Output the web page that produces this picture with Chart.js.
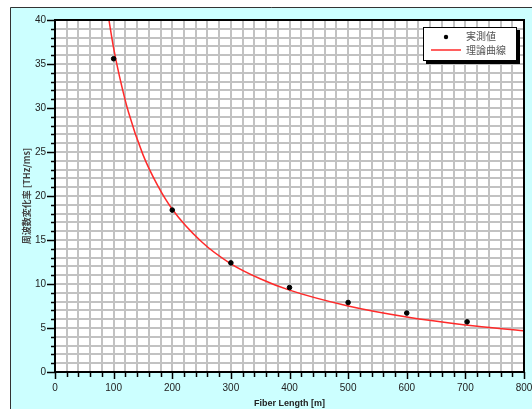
<!DOCTYPE html>
<html>
<head>
<meta charset="utf-8">
<script src="https://cdn.jsdelivr.net/npm/chart.js@4.4.1/dist/chart.umd.min.js"></script>
<style>
  html, body { margin: 0; padding: 0; background: #fff; }
  canvas { display: block; }
</style>
</head>
<body>
<canvas id="chart" width="532" height="409"></canvas>
<script>
// measured points
const measuredX = [100, 200, 300, 400, 500, 600, 703];
const measuredY = [35.6, 18.4, 12.4, 9.6, 7.9, 6.7, 5.7];

// theoretical curve
const curveX = [92, 100, 110, 125, 150, 175, 200, 250, 300, 350, 400, 500, 600, 700, 800];
const curveY = [40.0, 36.8, 33.6, 29.6, 24.7, 21.2, 18.5, 14.8, 12.3, 10.6, 9.3, 7.5, 6.25, 5.35, 4.68];

const legendLabels = ['実測値', '理論曲線'];
const xTitle = 'Fiber Length [m]';
const yTitle = '周波数変化率 [THz/ms]';

const tickFont = { family: 'Liberation Sans', size: 10 };

const framePlugin = {
  id: 'frame',
  beforeDraw(chart) {
    const { ctx, chartArea: a } = chart;
    ctx.save();
    ctx.fillStyle = '#ffffff';
    ctx.fillRect(0, 0, chart.width, chart.height);
    ctx.fillStyle = '#ccffff';
    ctx.fillRect(10, 7, chart.width - 10, chart.height - 7);
    ctx.strokeStyle = '#333';
    ctx.lineWidth = 1;
    ctx.beginPath();
    ctx.moveTo(10.5, chart.height);
    ctx.lineTo(10.5, 7.5);
    ctx.lineTo(chart.width, 7.5);
    ctx.stroke();
    ctx.fillStyle = '#ffffff';
    ctx.fillRect(a.left, a.top, a.right - a.left, a.bottom - a.top);
    ctx.restore();
  },
  afterDraw(chart) {
    const { ctx, chartArea: a, scales } = chart;
    ctx.save();
    ctx.strokeStyle = '#000';
    ctx.lineWidth = 2;
    ctx.strokeRect(a.left, a.top, a.right - a.left, a.bottom - a.top);

    // tick marks
    ctx.lineWidth = 1.5;
    ctx.beginPath();
    for (let v = 0; v <= 40; v++) {
      const y = Math.round(scales.y.getPixelForValue(v)) + 0.5;
      const len = v % 5 === 0 ? 8 : 4;
      ctx.moveTo(a.left - len, y);
      ctx.lineTo(a.left, y);
    }
    for (let v = 0; v <= 800; v += 20) {
      const x = Math.round(scales.x.getPixelForValue(v)) + 0.5;
      const len = v % 100 === 0 ? 7 : 5;
      ctx.moveTo(x, a.bottom);
      ctx.lineTo(x, a.bottom + len);
    }
    ctx.stroke();

    // legend
    const bx = 423, by = 27, bw = 94, bh = 34;
    ctx.fillStyle = '#000';
    ctx.fillRect(bx + 3, by + 3, bw, bh);
    ctx.fillStyle = '#fff';
    ctx.fillRect(bx, by, bw, bh);
    ctx.lineWidth = 1;
    ctx.strokeStyle = '#000';
    ctx.strokeRect(bx + 0.5, by + 0.5, bw - 1, bh - 1);

    ctx.fillStyle = '#000';
    ctx.beginPath();
    ctx.arc(446, 37, 2.2, 0, Math.PI * 2);
    ctx.fill();
    ctx.strokeStyle = '#ff2a2a';
    ctx.lineWidth = 1.5;
    ctx.beginPath();
    ctx.moveTo(431, 50);
    ctx.lineTo(461, 50);
    ctx.stroke();

    ctx.fillStyle = '#555';
    ctx.font = '10px "Noto Sans CJK JP"';
    ctx.textBaseline = 'middle';
    ctx.fillText(legendLabels[0], 466, 36);
    ctx.fillText(legendLabels[1], 466, 50);
    ctx.restore();
  }
};

new Chart(document.getElementById('chart'), {
  type: 'scatter',
  data: {
    datasets: [
      {
        label: legendLabels[0],
        data: measuredX.map((x, i) => ({ x, y: measuredY[i] })),
        backgroundColor: '#000',
        borderColor: '#000',
        pointRadius: 2.3,
        order: 0
      },
      {
        label: legendLabels[1],
        data: curveX.map((x, i) => ({ x, y: curveY[i] })),
        showLine: true,
        borderColor: '#ff2a2a',
        borderWidth: 1.5,
        pointRadius: 0,
        cubicInterpolationMode: 'monotone',
        order: 1
      }
    ]
  },
  options: {
    responsive: false,
    animation: false,
    devicePixelRatio: 1,
    layout: { padding: { left: 21, top: 20, right: 8, bottom: 0 } },
    plugins: { legend: { display: false }, tooltip: { enabled: false } },
    scales: {
      x: {
        min: 0, max: 800,
        afterFit(scale) { scale.height = 37; scale.paddingRight = 0; scale.paddingLeft = 0; },
        grid: { color: '#c2c2c2', lineWidth: 2, drawTicks: false },
        border: { display: false },
        ticks: {
          stepSize: 20, autoSkip: false, maxRotation: 0, padding: 10,
          color: '#222', font: tickFont,
          callback: v => (v % 100 === 0 ? v : '')
        },
        title: {
          display: true, text: xTitle, color: '#222',
          font: { family: 'Liberation Sans', size: 9, weight: 'bold' },
          padding: 0
        }
      },
      y: {
        min: 0, max: 40,
        afterFit(scale) { scale.width = 34; scale.paddingTop = 0; scale.paddingBottom = 0; },
        grid: { color: '#c2c2c2', lineWidth: 2, drawTicks: false },
        border: { display: false },
        ticks: {
          stepSize: 1, autoSkip: false, padding: 9,
          color: '#222', font: tickFont,
          callback: v => (v % 5 === 0 ? v : '')
        },
        title: {
          display: true, text: yTitle, color: '#444',
          font: { family: 'Noto Sans CJK JP', size: 9, weight: 'bold' },
          padding: 0
        }
      }
    }
  },
  plugins: [framePlugin]
});
</script>
</body>
</html>
